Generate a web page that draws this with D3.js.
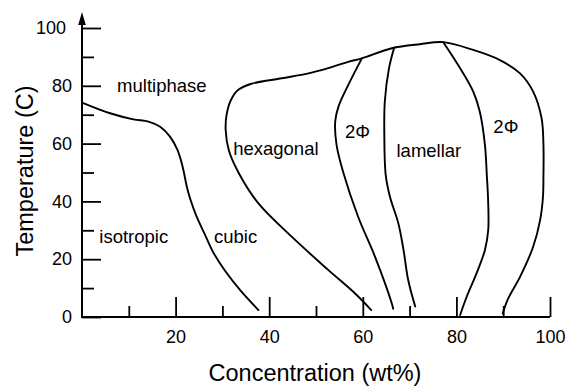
<!DOCTYPE html>
<html>
<head>
<meta charset="utf-8">
<script src="https://cdn.jsdelivr.net/npm/d3@7"></script>
<style>
  html, body { margin: 0; padding: 0; background: #fff; }
  svg { display: block; font-family: "Liberation Sans", Arial, Helvetica, sans-serif; }
</style>
</head>
<body>
<svg id="canvas" width="566" height="386"></svg>
<script>
"use strict"

// ---- chart values (concentration wt%, temperature C) ----
let xTicks = [0, 10, 20, 30, 40, 50, 60, 70, 80, 90, 100];
let xLabels = [20, 40, 60, 80, 100];
let yTicks = [0, 10, 20, 30, 40, 50, 60, 70, 80, 90, 100];
let yLabels = [0, 20, 40, 60, 80, 100];

// isotropic / cubic boundary under the multiphase region
let cubicEdge = [
    [0, 74.2], [6.0, 70.5], [11.0, 68.4], [14.2, 67.6], [16.7, 65.8],
    [18.8, 62.4], [20.4, 57.8], [21.5, 52.0], [22.4, 45.1], [23.2, 40.5],
    [24.5, 34.7], [26.1, 29.1], [28.0, 22.5], [30.6, 15.9], [33.8, 9.3],
    [37.7, 2.4]
];

// outer envelope: hexagonal left side, top, right 2-phase side
let outerEdge = [
    [61.8, 2.4], [58.3, 8.2], [52.6, 16.3], [44.8, 27.8], [37.7, 39.3],
    [33.6, 49.5], [31.4, 57.5], [30.7, 64.7], [30.9, 70.0], [31.8, 75.0],
    [33.4, 78.6], [36.2, 80.7], [42.7, 82.6], [48.4, 84.3], [52.6, 86.1],
    [56.9, 88.3], [59.8, 89.5], [66.2, 93.0], [72.2, 94.4], [77.2, 95.1],
    [83.6, 92.4], [89.3, 88.9], [93.6, 84.3], [96.4, 78.0], [98.2, 68.8],
    [98.6, 59.5], [98.6, 49.1], [98.5, 41.6], [97.9, 33.6], [96.4, 24.3],
    [93.6, 13.9], [91.0, 6.2], [89.9, 1.2]
];

// hexagonal / 2-phase
let hexEdge = [
    [59.8, 89.5], [56.9, 80.3], [54.8, 72.8], [54.1, 67.6], [54.4, 59.5],
    [55.8, 50.2], [59.0, 34.7], [62.6, 20.9], [66.2, 4.7], [66.5, 2.8]
];

// 2-phase / lamellar
let lamLeftEdge = [
    [66.7, 93.2], [65.6, 86.1], [64.7, 74.5], [64.6, 63.0], [64.9, 49.1],
    [65.8, 41.6], [67.6, 32.4], [68.7, 23.2], [69.7, 12.8], [71.2, 3.6]
];

// lamellar / 2-phase
let lamRightEdge = [
    [77.2, 95.1], [80.8, 86.1], [83.6, 78.0], [85.0, 71.0], [86.1, 59.5],
    [86.5, 49.1], [86.8, 39.3], [86.8, 30.1], [86.1, 23.2], [84.3, 15.1],
    [82.2, 7.0], [80.8, 0.7]
];

let boundaries = [cubicEdge, outerEdge, hexEdge, lamLeftEdge, lamRightEdge];

// region names and where they sit (concentration, temperature)
let regionNames = ["multiphase", "isotropic", "cubic", "hexagonal", "2Φ", "lamellar", "2Φ"];
let regionConc = [7.5, 3.7, 28.2, 32.3, 56.2, 67.2, 87.9];
let regionTemp = [77.9, 25.5, 25.5, 56.1, 61.8, 55.5, 63.6];

function drawImage() {
    let drawing = d3.select("#canvas");
    drawing.selectAll("*").remove();

    let x = d3.scaleLinear().domain([0, 100]).range([82, 550]);
    let y = d3.scaleLinear().domain([0, 100]).range([317, 28]);

    /* minor ticks, pointing into the plot */
    let yMinor = d3.axisLeft(y).tickValues(yTicks.filter(d => yLabels.indexOf(d) < 0))
        .tickSize(-12).tickSizeOuter(0).tickFormat("");
    let yMajor = d3.axisLeft(y).tickValues(yLabels)
        .tickSize(-19).tickSizeOuter(0).tickPadding(10);
    let xMinor = d3.axisBottom(x).tickValues(xTicks.filter(d => xLabels.indexOf(d) < 0 && d > 0))
        .tickSize(-11).tickSizeOuter(0).tickFormat("");
    let xMajor = d3.axisBottom(x).tickValues(xLabels)
        .tickSize(-20).tickSizeOuter(0).tickPadding(13);

    let gy1 = drawing.append("g").attr("transform", "translate(" + x(0) + ",0)").call(yMinor);
    let gy2 = drawing.append("g").attr("transform", "translate(" + x(0) + ",0)").call(yMajor);
    let gx1 = drawing.append("g").attr("transform", "translate(0," + y(0) + ")").call(xMinor);
    let gx2 = drawing.append("g").attr("transform", "translate(0," + y(0) + ")").call(xMajor);

    [gy1, gy2, gx1, gx2].forEach(g => {
        g.select(".domain").remove();
        g.selectAll(".tick line").attr("stroke", "#000").attr("stroke-width", 1.8);
        g.selectAll(".tick text")
            .attr("fill", "#000")
            .style("font-size", "18px")
            .style("font-family", "'Liberation Sans', Arial, sans-serif");
    });
    // the "100" label sits a little further left than the others
    gy2.selectAll(".tick text").attr("x", d => d === 100 ? -16 : -10);

    /* axis lines */
    drawing.append("line")
        .attr("x1", x(0)).attr("y1", y(0))
        .attr("x2", x(100)).attr("y2", y(0))
        .attr("stroke", "#000").attr("stroke-width", 2);
    drawing.append("line")
        .attr("x1", x(0)).attr("y1", y(0) + 1)
        .attr("x2", x(0)).attr("y2", 20)
        .attr("stroke", "#000").attr("stroke-width", 2);

    /* arrow head on the temperature axis */
    drawing.append("polygon")
        .attr("points",
            x(0) + ",12 " +
            (x(0) - 3.8) + ",25 " +
            (x(0) + 3.8) + ",25")
        .attr("fill", "#000");

    /* phase boundaries */
    let line = d3.line()
        .x(d => x(d[0]))
        .y(d => y(d[1]))
        .curve(d3.curveCatmullRom.alpha(0.5));

    drawing.selectAll("path.edge")
        .data(boundaries)
        .enter()
        .append("path")
        .attr("class", "edge")
        .attr("d", line)
        .attr("fill", "none")
        .attr("stroke", "#000")
        .attr("stroke-width", 1.9)
        .attr("stroke-linejoin", "round")
        .attr("stroke-linecap", "round");

    /* region names */
    drawing.selectAll("text.region")
        .data(regionNames)
        .enter()
        .append("text")
        .attr("class", "region")
        .attr("x", (d, i) => x(regionConc[i]))
        .attr("y", (d, i) => y(regionTemp[i]))
        .style("font-size", "18.5px")
        .attr("fill", "#000")
        .text(d => d);

    /* axis titles */
    drawing.append("text")
        .attr("x", 315)
        .attr("y", 381)
        .attr("text-anchor", "middle")
        .style("font-size", "23.5px")
        .text("Concentration (wt%)");

    drawing.append("text")
        .attr("transform", "translate(33,171) rotate(-90)")
        .attr("text-anchor", "middle")
        .style("font-size", "23.5px")
        .text("Temperature (C)");
}

drawImage();
</script>
</body>
</html>
